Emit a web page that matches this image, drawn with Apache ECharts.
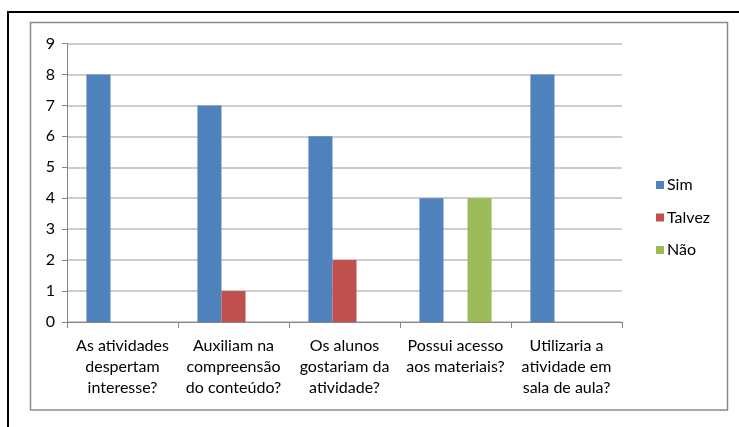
<!DOCTYPE html>
<html>
<head>
<meta charset="utf-8">
<script src="https://cdn.jsdelivr.net/npm/echarts@6/dist/echarts.min.js"></script>
<style>html,body{margin:0;padding:0;background:#fff}#c{width:739px;height:427px}</style>
</head>
<body>
<div id="c"></div>
<script>
const categories = [
  "As atividades\ndespertam\ninteresse?",
  "Auxiliam na\ncompreensão\ndo conteúdo?",
  "Os alunos\ngostariam da\natividade?",
  "Possui acesso\naos materiais?",
  "Utilizaria a\natividade em\nsala de aula?"
];
const sim = [8, 7, 6, 4, 8];
const talvez = [0, 1, 2, 0, 0];
const nao = [0, 0, 0, 4, 0];
const yTicks = [0, 1, 2, 3, 4, 5, 6, 7, 8, 9];

const chart = echarts.init(document.getElementById('c'), null, {renderer: 'canvas'});
const font = "Lato, 'Open Sans', sans-serif";
chart.setOption({
  animation: false,
  backgroundColor: '#fff',
  textStyle: {fontFamily: font},
  graphic: [
    {type: 'rect', shape: {x: 8, y: 12, width: 800, height: 500}, style: {fill: 'none', stroke: '#000', lineWidth: 2}, silent: true},
    {type: 'rect', shape: {x: 30.5, y: 22.5, width: 697, height: 387.5}, style: {fill: 'none', stroke: '#8a8a8a', lineWidth: 1.5}, silent: true}
  ],
  grid: {left: 67, right: 117, top: 43.5, bottom: 105, containLabel: false},
  legend: {
    orient: 'vertical',
    left: 651, top: 172,
    itemWidth: 8, itemHeight: 8, itemGap: 16.5,
    icon: 'rect',
    textStyle: {fontSize: 16, color: '#000', fontFamily: font, padding: [0, 0, 0, -2]},
    data: ['Sim', 'Talvez', 'Não']
  },
  xAxis: {
    type: 'category',
    data: categories,
    axisLine: {lineStyle: {color: '#868686'}},
    axisTick: {show: true, length: 6, alignWithLabel: false, lineStyle: {color: '#868686'}},
    axisLabel: {color: '#000', fontSize: 16, lineHeight: 21, margin: 13, interval: 0, fontFamily: font}
  },
  yAxis: {
    type: 'value',
    min: yTicks[0], max: yTicks[yTicks.length - 1], interval: 1,
    axisLine: {show: true, lineStyle: {color: '#868686'}},
    axisTick: {show: true, length: 5, lineStyle: {color: '#868686'}},
    splitLine: {lineStyle: {color: '#bdbdbd', width: 1.5}},
    axisLabel: {color: '#000', fontSize: 16, margin: 12, fontFamily: font}
  },
  series: [
    {name: 'Sim', type: 'bar', data: sim, itemStyle: {color: '#4F81BD'}, barGap: '0%', barCategoryGap: '35%'},
    {name: 'Talvez', type: 'bar', data: talvez, itemStyle: {color: '#C0504D'}, barGap: '0%', barCategoryGap: '35%'},
    {name: 'Não', type: 'bar', data: nao, itemStyle: {color: '#9BBB59'}, barGap: '0%', barCategoryGap: '35%'}
  ]
});
</script>
</body>
</html>
